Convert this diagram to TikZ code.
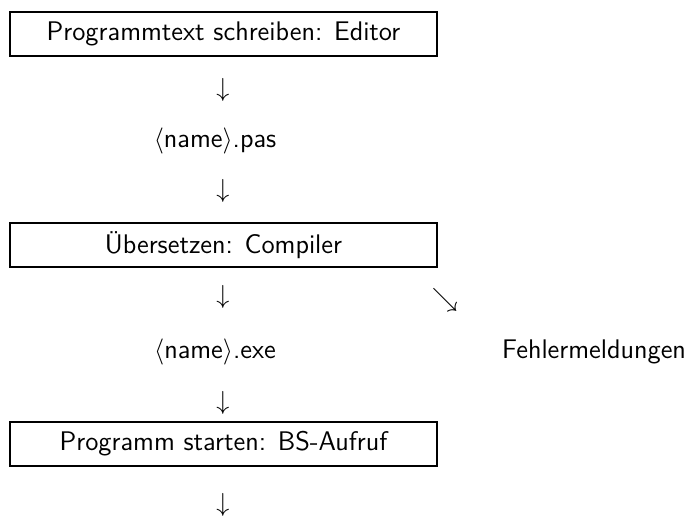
\documentclass[tikz,border=0pt]{standalone}
\usepackage{fontspec}
\begin{document}
\begin{tikzpicture}[x=0.42pt,y=-0.42pt,
  every node/.style={font=\sffamily\fontsize{11.3}{13.5}\selectfont, inner sep=0pt},
  stepbox/.style={draw, line width=1.2pt, minimum width=427*0.42pt, minimum height=44*0.42pt},
  glyph/.style={}]
\useasboundingbox (0,0) rectangle (688,521);
\node[stepbox] (b1) at (223.5,34) {Programmtext schreiben: Editor};
\node[glyph] (a1) at (223,90) {$\downarrow$};
\node (pas) at (215,141) {$\langle$name$\rangle$.pas};
\node[glyph] (a2) at (223,191) {$\downarrow$};
\node[stepbox] (b2) at (223.5,245) {Übersetzen: Compiler};
\node[glyph] (a3) at (223,297) {$\downarrow$};
\node[glyph] (se) at (445,300) {$\searrow$};
\node (exe) at (215,352) {$\langle$name$\rangle$.exe};
\node (fehl) at (594,352) {Fehlermeldungen};
\node[glyph] (a4) at (223,403) {$\downarrow$};
\node[stepbox] (b3) at (223.5,444) {Programm starten: BS-Aufruf};
\node[glyph] (a5) at (223,505) {$\downarrow$};
\end{tikzpicture}
\end{document}
